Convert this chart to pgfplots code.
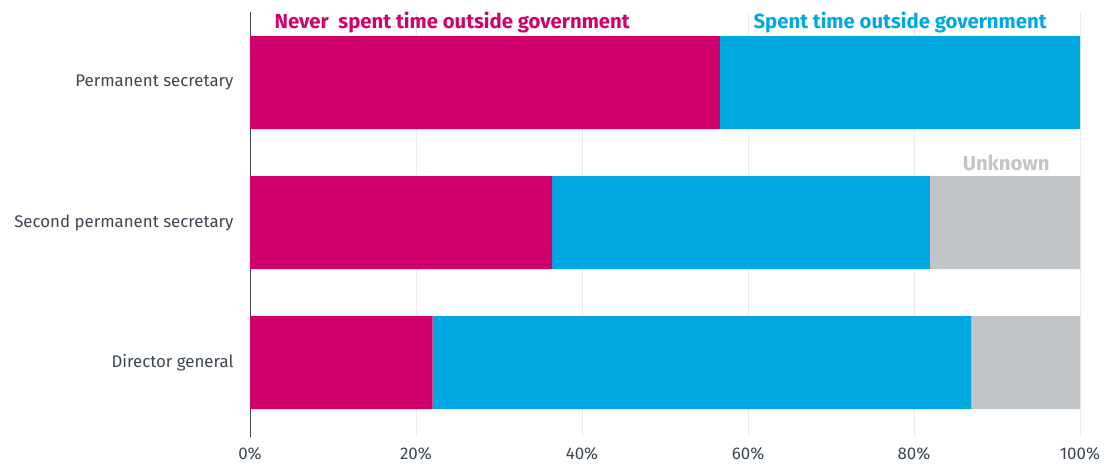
\documentclass[border=0pt]{standalone}
\usepackage{fontspec}
\setmainfont{Fira Sans}
\usepackage{pgfplots}
\pgfplotsset{compat=1.18}
\definecolor{cmag}{HTML}{D0006F}
\definecolor{cblue}{HTML}{00A8E1}
\definecolor{cgray}{HTML}{C1C5C8}
\definecolor{ctext}{HTML}{3D4650}
\begin{document}
\begin{tikzpicture}[x=1bp,y=1bp]
\path[use as bounding box] (0,0) rectangle (1113,466);
\begin{axis}[
  at={(250bp,29bp)}, anchor=south west,
  scale only axis, width=830bp, height=425bp,
  xbar stacked, bar width=0.664,
  xmin=0, xmax=100,
  ymin=-0.504, ymax=2.532, y dir=reverse,
  ytick={0,1,2},
  yticklabels={Permanent secretary, Second permanent secretary, Director general},
  xtick={0,20,40,60,80,100},
  xticklabel={\pgfmathprintnumber{\tick}\%},
  /pgf/number format/assume math mode=true,
  axis y line*=left, axis x line*=bottom,
  x axis line style={draw=none},
  y axis line style={draw=ctext, line width=0.8bp},
  major tick length=0pt,
  xmajorgrids, grid style={draw=black!8, line width=0.8bp},
  yticklabel style={font=\fontsize{16.9}{19}\selectfont, text=ctext, xshift=-13bp},
  xticklabel style={font=\fontsize{17}{19}\selectfont, text=ctext, yshift=-7bp},
  clip=false,
]
\addplot[fill=cmag, draw=none] coordinates {(56.6,0) (36.4,1) (22.0,2)};
\addplot[fill=cblue, draw=none] coordinates {(43.4,0) (45.5,1) (64.9,2)};
\addplot[fill=cgray, draw=none] coordinates {(0,0) (18.1,1) (13.1,2)};
\node[anchor=west, text=cmag, font=\fontsize{20.4}{23}\bfseries\selectfont] at (axis cs:2.55,-0.432) {Never\ \ spent time outside government};
\node[anchor=east, text=cblue, font=\fontsize{20.4}{23}\bfseries\selectfont] at (axis cs:96.4,-0.432) {Spent time outside government};
\node[anchor=center, text=cgray, font=\fontsize{20.4}{23}\bfseries\selectfont] at (axis cs:91.1,0.575) {Unknown};
\end{axis}
\end{tikzpicture}
\end{document}
